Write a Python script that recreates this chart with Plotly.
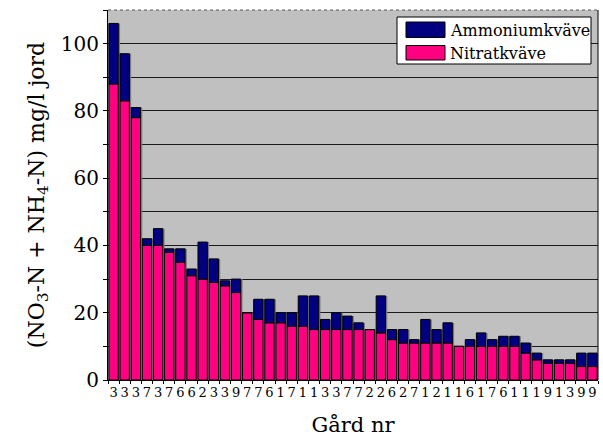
import plotly.graph_objects as go

# Farm numbers shown under each bar (repeat, so bars are placed by index)
farm_labels = ["3", "3", "3", "7", "3", "7", "6", "6", "2", "3",
               "3", "9", "7", "7", "6", "1", "7", "1", "1", "3",
               "3", "7", "7", "2", "2", "6", "2", "7", "1", "2",
               "1", "1", "6", "1", "7", "6", "1", "1", "1", "9",
               "1", "3", "9", "9"]

# Nitrate-N per farm (mg/l soil)
nitrate = [88, 83, 78, 40, 40, 38, 35, 31, 30, 29,
           28, 26, 20, 18, 17, 17, 16, 16, 15, 15,
           15, 15, 15, 15, 14, 12, 11, 11, 11, 11,
           11, 10, 10, 10, 10, 10, 10, 8, 6, 5,
           5, 5, 4, 4]

# Ammonium-N per farm (mg/l soil), stacked on top of nitrate
ammonium = [18, 14, 3, 2, 5, 1, 4, 2, 11, 7,
            1.5, 4, 0, 6, 7, 3, 4, 9, 10, 3,
            5, 4, 2, 0, 11, 3, 4, 1, 7, 4,
            6, 0, 2, 4, 2, 3, 3, 3, 2, 1,
            1, 1, 4, 4]

x = list(range(len(farm_labels)))
total = [n + a for n, a in zip(nitrate, ammonium)]

FONT = "DejaVu Serif"
PINK = "#FF0080"
NAVY = "#000080"
BW = 0.84

fig = go.Figure()

# soft drop shadow behind each stacked bar
fig.add_trace(go.Bar(x=x, y=total, base=0, width=BW, offset=-BW / 2 + 0.16,
                     marker=dict(color="#7a7a7a", line=dict(width=0)),
                     showlegend=False, hoverinfo="skip"))
fig.add_trace(go.Bar(x=x, y=nitrate, base=0, width=BW, offset=-BW / 2,
                     name="Nitratkväve",
                     marker=dict(color=PINK, line=dict(color="black", width=1)),
                     showlegend=False))
fig.add_trace(go.Bar(x=x, y=ammonium, base=nitrate, width=BW, offset=-BW / 2,
                     name="Ammoniumkväve",
                     marker=dict(color=NAVY, line=dict(color="black", width=1)),
                     showlegend=False))

fig.update_layout(
    width=603, height=446,
    margin=dict(l=108, r=5, t=10, b=66),
    paper_bgcolor="white",
    plot_bgcolor="#C0C0C0",
    barmode="overlay",
    font=dict(family=FONT, color="black", size=16),
    xaxis=dict(
        range=[-0.5, len(x) - 0.5],
        tickmode="array", tickvals=x, ticktext=farm_labels,
        tickfont=dict(size=13, family=FONT),
        ticks="", showgrid=False, zeroline=False,
        showline=True, linecolor="black", linewidth=1,
        minor=dict(tickmode="array", tickvals=[i - 0.5 for i in x] + [len(x) - 0.5],
                   ticks="outside", ticklen=3, tickcolor="black", showgrid=False),
        title=dict(text="Gård nr", font=dict(size=21, family=FONT), standoff=18),
    ),
    yaxis=dict(
        range=[0, 110],
        tickmode="array", tickvals=[0, 20, 40, 60, 80, 100],
        tickfont=dict(size=20, family=FONT),
        ticks="outside", ticklen=4, tickcolor="black",
        showgrid=True, gridcolor="#1a1a1a", gridwidth=1,
        minor=dict(dtick=10, tick0=0, showgrid=True, gridcolor="#1a1a1a",
                   ticks="outside", ticklen=4, tickcolor="black"),
        zeroline=False, showline=True, linecolor="black", linewidth=1,
        title=dict(text="(NO<sub>3</sub>-N + NH<sub>4</sub>-N) mg/l jord",
                   font=dict(size=22, family=FONT), standoff=10),
    ),
)

# plot-area frame: dotted top edge, solid right edge
fig.add_shape(type="line", xref="paper", yref="paper", x0=0, x1=1, y0=1, y1=1,
              line=dict(color="#555555", width=1, dash="dot"))
fig.add_shape(type="line", xref="paper", yref="paper", x0=1, x1=1, y0=0, y1=1,
              line=dict(color="black", width=1))

# legend box drawn in paper coordinates
W, H, L, T = 490.0, 370.0, 108.0, 10.0
def px(xp):
    return (xp - L) / W
def py(yp):
    return 1 - (yp - T) / H

fig.add_shape(type="rect", xref="paper", yref="paper",
              x0=px(397), x1=px(591), y0=py(64), y1=py(17),
              fillcolor="white", line=dict(color="black", width=1))
for (name, color, top, bot, mid) in [("Ammoniumkväve", NAVY, 22, 37.5, 30),
                                      ("Nitratkväve", PINK, 45.5, 60, 53)]:
    fig.add_shape(type="rect", xref="paper", yref="paper",
                  x0=px(406), x1=px(445), y0=py(bot), y1=py(top),
                  fillcolor=color, line=dict(color="black", width=1))
    fig.add_annotation(xref="paper", yref="paper", x=px(448), y=py(mid),
                       text=name, showarrow=False, xanchor="left", yanchor="middle",
                       font=dict(size=16, family=FONT, color="black"))

fig.write_html("out.html")
